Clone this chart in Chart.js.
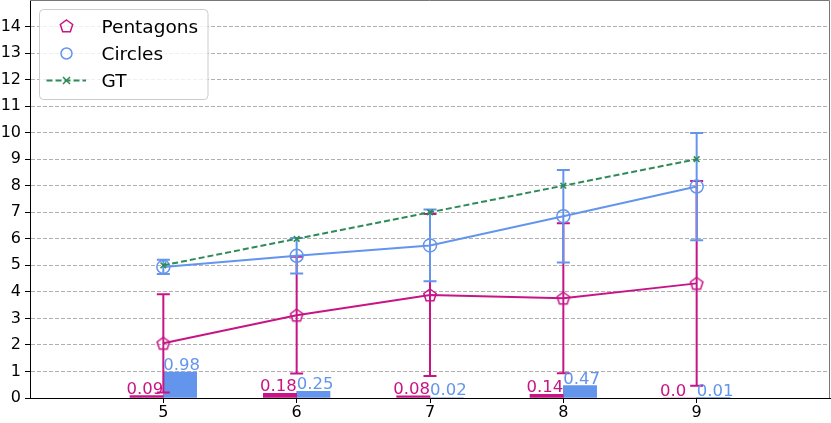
<!DOCTYPE html>
<html>
<head>
<meta charset="utf-8">
<script src="https://cdn.jsdelivr.net/npm/chart.js@4.4.0/dist/chart.umd.min.js"></script>
<style>
  html, body { margin: 0; padding: 0; background: #fff; }
</style>
</head>
<body>
<canvas id="chart" width="831" height="423"></canvas>
<script>
// data
const xValues = [5, 6, 7, 8, 9];
const pentagons = [2.06, 3.12, 3.88, 3.76, 4.32];
const pentagonErr = [1.85, 2.2, 3.05, 2.83, 3.86];
const circles = [4.94, 5.36, 5.75, 6.85, 7.97];
const circleErr = [0.27, 0.67, 1.35, 1.74, 2.02];
const gt = [5, 6, 7, 8, 9];
const pentagonBars = [0.09, 0.18, 0.08, 0.14, 0.0];
const circleBars = [0.98, 0.25, 0.02, 0.47, 0.01];
const pentagonBarLabels = ['0.09', '0.18', '0.08', '0.14', '0.0  '];
const circleBarLabels = ['0.98', '0.25', '0.02', '0.47', '0.01'];
const yTicks = [0, 1, 2, 3, 4, 5, 6, 7, 8, 9, 10, 11, 12, 13, 14];
const legendLabels = ['Pentagons', 'Circles', 'GT'];

const MAGENTA = '#C71585';
const BLUE = '#6495ED';
const GREEN = '#2E8B57';
const FONT = 'DejaVu Sans';

Chart.defaults.font.family = FONT;

function pts(ys) {
    return xValues.map((x, i) => ({ x: x, y: ys[i] }));
}

function pentagonPath(g, cx, cy, r) {
    g.beginPath();
    for (let i = 0; i < 5; i++) {
        const a = -Math.PI / 2 + i * 2 * Math.PI / 5;
        const px = cx + r * Math.cos(a);
        const py = cy + r * Math.sin(a);
        if (i === 0) g.moveTo(px, py); else g.lineTo(px, py);
    }
    g.closePath();
}

function pentagonImage(r, color) {
    const c = document.createElement('canvas');
    const s = 18;
    c.width = s; c.height = s;
    const g = c.getContext('2d');
    g.strokeStyle = color;
    g.lineWidth = 1.5;
    pentagonPath(g, s / 2, s / 2 + 0.5, r);
    g.stroke();
    return c;
}

// error bars, drawn right after their own line
const errorBars = {
    id: 'errorBars',
    afterDatasetDraw(chart, args) {
        const ds = chart.data.datasets[args.index];
        if (!ds.errors) return;
        const xs = chart.scales.x, ys = chart.scales.y;
        const ctx = chart.ctx;
        ctx.save();
        ctx.strokeStyle = ds.borderColor;
        ctx.lineWidth = 2;
        ds.data.forEach((p, i) => {
            const px = xs.getPixelForValue(p.x);
            const top = ys.getPixelForValue(p.y + ds.errors[i]);
            const bot = ys.getPixelForValue(p.y - ds.errors[i]);
            ctx.beginPath();
            ctx.moveTo(px, top); ctx.lineTo(px, bot);
            ctx.moveTo(px - 6.5, top); ctx.lineTo(px + 6.5, top);
            ctx.moveTo(px - 6.5, bot); ctx.lineTo(px + 6.5, bot);
            ctx.stroke();
        });
        ctx.restore();
    }
};

// value labels over the small bars
const barLabels = {
    id: 'barLabels',
    afterDatasetsDraw(chart) {
        const ctx = chart.ctx;
        ctx.save();
        ctx.font = '16.5px "' + FONT + '"';
        ctx.textBaseline = 'alphabetic';
        chart.data.datasets.forEach((ds, di) => {
            if (!ds.barLabels) return;
            const meta = chart.getDatasetMeta(di);
            meta.data.forEach((el, i) => {
                ctx.fillStyle = ds.backgroundColor;
                if (ds.labelSide === 'left') {
                    ctx.textAlign = 'right';
                    ctx.fillText(ds.barLabels[i], el.x + el.width / 2, el.y - 2);
                } else {
                    ctx.textAlign = 'left';
                    ctx.fillText(ds.barLabels[i], el.x - el.width / 2, el.y - 2);
                }
            });
        });
        ctx.restore();
    }
};

// top/right frame and the legend box
const frameAndLegend = {
    id: 'frameAndLegend',
    afterDraw(chart) {
        const ctx = chart.ctx;
        const a = chart.chartArea;
        ctx.save();
        ctx.strokeStyle = '#777';
        ctx.lineWidth = 1;
        ctx.beginPath();
        ctx.moveTo(a.left, a.top + 0.5);
        ctx.lineTo(a.right - 0.5, a.top + 0.5);
        ctx.lineTo(a.right - 0.5, a.bottom);
        ctx.stroke();

        // legend
        ctx.fillStyle = 'rgba(255,255,255,0.8)';
        ctx.strokeStyle = '#cccccc';
        ctx.beginPath();
        ctx.roundRect(39.5, 9.5, 168.5, 90, 4);
        ctx.fill();
        ctx.stroke();

        const mx = 66.5;
        const rows = [26, 53.5, 80.5];

        ctx.lineWidth = 1.5;
        ctx.strokeStyle = MAGENTA;
        pentagonPath(ctx, mx, rows[0] + 0.5, 6.5);
        ctx.stroke();

        ctx.strokeStyle = BLUE;
        ctx.beginPath();
        ctx.arc(mx, rows[1], 5.5, 0, Math.PI * 2);
        ctx.stroke();

        ctx.strokeStyle = GREEN;
        ctx.lineWidth = 2;
        ctx.setLineDash([6, 3]);
        ctx.beginPath();
        ctx.moveTo(46.5, rows[2]);
        ctx.lineTo(86, rows[2]);
        ctx.stroke();
        ctx.setLineDash([]);
        ctx.lineWidth = 1.5;
        ctx.beginPath();
        ctx.moveTo(mx - 3.5, rows[2] - 3.5); ctx.lineTo(mx + 3.5, rows[2] + 3.5);
        ctx.moveTo(mx - 3.5, rows[2] + 3.5); ctx.lineTo(mx + 3.5, rows[2] - 3.5);
        ctx.stroke();

        ctx.fillStyle = '#000';
        ctx.font = '18.5px "' + FONT + '"';
        ctx.textAlign = 'left';
        ctx.textBaseline = 'alphabetic';
        legendLabels.forEach((t, i) => {
            ctx.fillText(t, 101.5, rows[i] + 6.5);
        });
        ctx.restore();
    }
};

new Chart(document.getElementById('chart'), {
    type: 'line',
    data: {
        datasets: [
            {
                type: 'bar',
                label: 'Pentagons bars',
                data: pts(pentagonBars),
                backgroundColor: MAGENTA,
                borderWidth: 0,
                barThickness: 33.33,
                barLabels: pentagonBarLabels,
                labelSide: 'left',
                order: 9
            },
            {
                type: 'bar',
                label: 'Circles bars',
                data: pts(circleBars),
                backgroundColor: BLUE,
                borderWidth: 0,
                barThickness: 33.33,
                barLabels: circleBarLabels,
                labelSide: 'right',
                order: 10
            },
            {
                label: 'Pentagons',
                data: pts(pentagons),
                errors: pentagonErr,
                borderColor: MAGENTA,
                borderWidth: 2,
                pointStyle: pentagonImage(6.5, MAGENTA),
                tension: 0,
                order: 3
            },
            {
                label: 'Circles',
                data: pts(circles),
                errors: circleErr,
                borderColor: BLUE,
                borderWidth: 2,
                pointStyle: 'circle',
                pointRadius: 6.5,
                pointBorderWidth: 1.5,
                pointBorderColor: BLUE,
                pointBackgroundColor: 'rgba(0,0,0,0)',
                tension: 0,
                order: 2
            },
            {
                label: 'GT',
                data: pts(gt),
                borderColor: GREEN,
                borderWidth: 2,
                borderDash: [6, 3],
                pointStyle: 'crossRot',
                pointRadius: 4,
                pointBorderWidth: 1.5,
                pointBorderColor: GREEN,
                tension: 0,
                order: 1
            }
        ]
    },
    options: {
        responsive: false,
        animation: false,
        events: [],
        layout: { autoPadding: false, padding: { top: 0, right: 1, left: 0, bottom: 0 } },
        plugins: {
            legend: { display: false },
            tooltip: { enabled: false }
        },
        scales: {
            x: {
                type: 'linear',
                min: 4,
                max: 10,
                offset: false,
                afterBuildTicks: (s) => { s.ticks = xValues.map(v => ({ value: v })); },
                afterFit: (s) => { s.height = 25; s.paddingLeft = 0; s.paddingRight = 0; },
                ticks: { color: '#000', font: { size: 16 }, padding: 0, maxRotation: 0 },
                grid: {
                    offset: false,
                    drawOnChartArea: false,
                    drawTicks: true,
                    tickLength: 5,
                    tickColor: '#000',
                    tickWidth: 1
                },
                border: { display: true, color: '#000', width: 1 }
            },
            y: {
                type: 'linear',
                min: 0,
                max: 15,
                afterBuildTicks: (s) => { s.ticks = yTicks.map(v => ({ value: v })); },
                afterFit: (s) => { s.width = 30; s.paddingTop = 0; s.paddingBottom = 0; },
                ticks: { color: '#000', font: { size: 16 }, padding: 4 },
                grid: {
                    color: '#b0b0b0',
                    lineWidth: 1,
                    drawTicks: true,
                    tickLength: 5,
                    tickColor: '#000',
                    tickWidth: 1,
                    tickBorderDash: []
                },
                border: { display: true, color: '#000', width: 1, dash: [4, 2] }
            }
        }
    },
    plugins: [errorBars, barLabels, frameAndLegend]
});
</script>
</body>
</html>
